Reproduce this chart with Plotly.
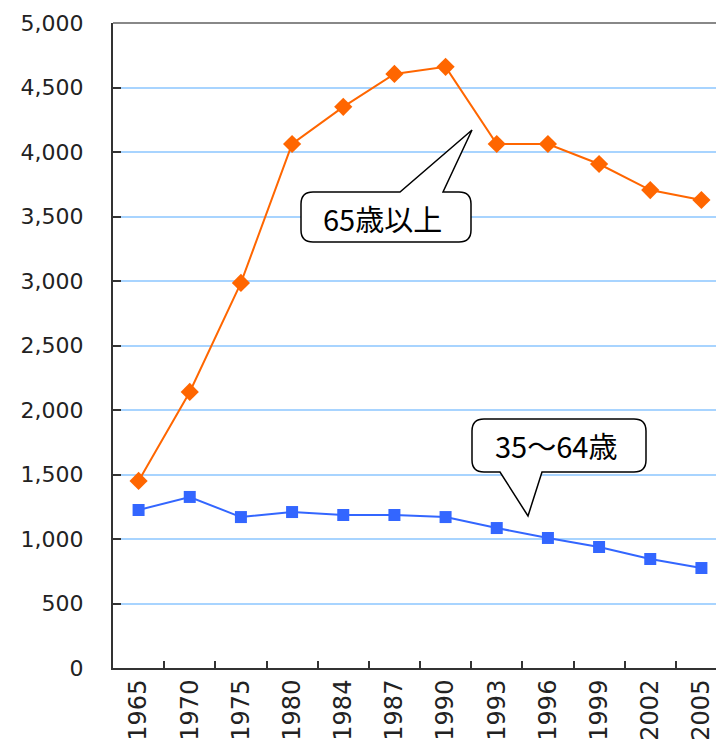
import plotly.graph_objects as go

years = ["1965", "1970", "1975", "1980", "1984", "1987", "1990", "1993", "1996", "1999", "2002", "2005"]
over65 = [1450, 2140, 2985, 4062, 4350, 4605, 4660, 4062, 4062, 3907, 3705, 3628]
age35_64 = [1225, 1326, 1170, 1209, 1186, 1186, 1170, 1085, 1008, 938, 845, 775]
y_ticks = [0, 500, 1000, 1500, 2000, 2500, 3000, 3500, 4000, 4500, 5000]
label_over65 = "65歳以上"
label_35_64 = "35～64歳"

OFF = 8  # default page body margin
W, H = 724 - OFF, 748 - OFF
# plot area in window pixels
L, T, B, R = 113, 23, 668, 724


def px(x):
    return (x - L) / (R - L)


def py(y):
    return (B - y) / (B - T)


def bubble(l, t, r, b, rad, tail, side):
    def P(x, y):
        return f"{px(x):.5f},{py(y):.5f}"
    d = f"M {P(l + rad, t)} "
    if side == "top":
        for (x, y) in tail:
            d += f"L {P(x, y)} "
    d += f"L {P(r - rad, t)} Q {P(r, t)} {P(r, t + rad)} "
    d += f"L {P(r, b - rad)} Q {P(r, b)} {P(r - rad, b)} "
    if side == "bottom":
        for (x, y) in tail:
            d += f"L {P(x, y)} "
    d += f"L {P(l + rad, b)} Q {P(l, b)} {P(l, b - rad)} "
    d += f"L {P(l, t + rad)} Q {P(l, t)} {P(l + rad, t)} Z"
    return d


fig = go.Figure()
fig.add_trace(go.Scatter(
    x=years, y=over65, mode="lines+markers",
    line=dict(color="#ff6600", width=2),
    marker=dict(symbol="diamond", size=14, color="#ff6600"),
    name=label_over65, showlegend=False,
))
fig.add_trace(go.Scatter(
    x=years, y=age35_64, mode="lines+markers",
    line=dict(color="#3366ff", width=2),
    marker=dict(symbol="square", size=12, color="#3366ff"),
    name=label_35_64, showlegend=False,
))

shapes = [
    dict(type="path", xref="paper", yref="paper",
         path=bubble(301, 192, 471, 242, 12, [(400, 192), (472, 130), (443, 192)], "top"),
         line=dict(color="black", width=1.5), fillcolor="white", layer="above"),
    dict(type="path", xref="paper", yref="paper",
         path=bubble(472, 419, 646, 472, 12, [(542, 472), (528, 516), (500, 472)], "bottom"),
         line=dict(color="black", width=1.5), fillcolor="white", layer="above"),
]

annotations = [
    dict(xref="paper", yref="paper", x=px(382), y=py(218), text=label_over65, showarrow=False,
         font=dict(family="Noto Sans CJK JP", size=29, color="black"), xanchor="center", yanchor="middle"),
    dict(xref="paper", yref="paper", x=px(556), y=py(445), text=label_35_64, showarrow=False,
         font=dict(family="Noto Sans CJK JP", size=29, color="black"), xanchor="center", yanchor="middle"),
]

fig.update_layout(
    width=W, height=H,
    margin=dict(l=L - OFF, r=(W + OFF) - R, t=T - OFF, b=(H + OFF) - B, autoexpand=False),
    paper_bgcolor="white", plot_bgcolor="white",
    shapes=shapes, annotations=annotations,
    font=dict(family="DejaVu Sans", size=22, color="#222222"),
)
fig.update_xaxes(
    type="category", range=[-0.5, 11.5 - 3 / 51.2],
    showgrid=False, showline=True, linecolor="#333333", linewidth=2, mirror=False,
    ticks="inside", tickson="boundaries", ticklen=7, tickcolor="#333333", tickwidth=2,
    tickangle=-90, tickfont=dict(family="DejaVu Sans", size=24, color="#222222"),
    automargin=False,
)
fig.update_yaxes(
    range=[0, 5000], tickvals=y_ticks, tickformat=",d",
    showgrid=True, gridcolor="#a8d4ff", gridwidth=2,
    showline=True, linecolor="#333333", linewidth=2,
    ticks="inside", ticklen=8, tickcolor="#333333", tickwidth=2,
    ticklabelstandoff=23, zeroline=False,
    tickfont=dict(family="DejaVu Sans", size=22, color="#222222"),
    automargin=False,
)
# top border line
fig.add_shape(type="line", xref="paper", yref="paper", x0=0, x1=1, y0=1, y1=1,
              line=dict(color="#888888", width=2))

fig.write_html("out.html")
